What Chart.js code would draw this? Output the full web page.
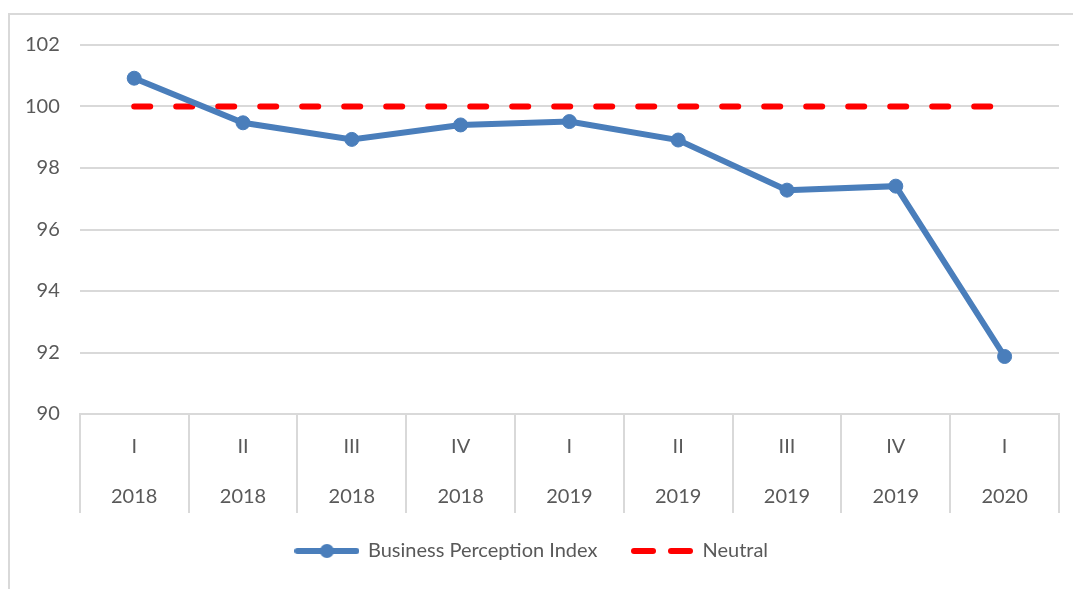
<!DOCTYPE html>
<html>
<head>
<meta charset="utf-8">
<script src="https://cdn.jsdelivr.net/npm/chart.js@4"></script>
<style>
  html, body { margin: 0; padding: 0; background: #fff; overflow: hidden; }
  #frame { position: absolute; left: 8px; top: 13px; width: 2000px; height: 2000px; border: 2px solid #D9D9D9; }
  #wrap { position: absolute; left: 0; top: 0; width: 1073px; height: 589px; }
</style>
</head>
<body>
<div id="frame"></div>
<div id="wrap"><canvas id="c" width="1073" height="589"></canvas></div>
<script>
const quarters = ['I', 'II', 'III', 'IV', 'I', 'II', 'III', 'IV', 'I'];
const years = ['2018', '2018', '2018', '2018', '2019', '2019', '2019', '2019', '2020'];
const bpiValues = [100.92, 99.47, 98.93, 99.40, 99.51, 98.91, 97.28, 97.41, 91.87];
const neutralValues = [100, 100, 100, 100, 100, 100, 100, 100, 100];
const seriesNames = ['Business Perception Index', 'Neutral'];
const yTicks = { min: 90, max: 102, step: 2 };

const BLUE = '#4A7EBB';
const RED = '#FF0000';
const GRID = '#D9D9D9';
const TEXT = '#595959';
const FONT = 'Lato';

const labels = quarters.map((q, i) => [q, years[i]]);

function legendLine() {
  const cv = document.createElement('canvas');
  cv.width = 65; cv.height = 16;
  const g = cv.getContext('2d');
  g.strokeStyle = BLUE; g.lineWidth = 6; g.lineCap = 'round';
  g.beginPath(); g.moveTo(3, 8); g.lineTo(62, 8); g.stroke();
  g.fillStyle = BLUE;
  g.beginPath(); g.arc(32.5, 8, 7, 0, Math.PI * 2); g.fill();
  return cv;
}
function legendDash() {
  const cv = document.createElement('canvas');
  cv.width = 65; cv.height = 16;
  const g = cv.getContext('2d');
  g.strokeStyle = RED; g.lineWidth = 6; g.lineCap = 'round';
  g.beginPath(); g.moveTo(5, 8); g.lineTo(24, 8); g.stroke();
  g.beginPath(); g.moveTo(42, 8); g.lineTo(61, 8); g.stroke();
  return cv;
}
const legendIcons = [legendLine(), legendDash()];

new Chart(document.getElementById('c'), {
  type: 'line',
  data: {
    labels: labels,
    datasets: [
      {
        label: seriesNames[0],
        data: bpiValues,
        borderColor: BLUE,
        backgroundColor: BLUE,
        borderWidth: 6,
        pointRadius: 7,
        pointBorderWidth: 1,
        pointBackgroundColor: BLUE,
        pointBorderColor: BLUE,
        tension: 0,
        order: 1
      },
      {
        label: seriesNames[1],
        data: neutralValues,
        borderColor: RED,
        backgroundColor: RED,
        borderWidth: 6,
        borderDash: [16, 26],
        borderCapStyle: 'round',
        pointRadius: 0,
        tension: 0,
        order: 2
      }
    ]
  },
  options: {
    responsive: false,
    animation: false,
    devicePixelRatio: 1,
    layout: { padding: { left: 5, right: 14, top: 45, bottom: 18 } },
    plugins: {
      tooltip: { enabled: false },
      legend: {
        position: 'bottom',
        labels: {
          usePointStyle: true,
          pointStyleWidth: 62,
          boxHeight: 16,
          padding: 33,
          color: TEXT,
          font: { family: FONT, size: 20 },
          generateLabels: (chart) => {
            const items = Chart.defaults.plugins.legend.labels.generateLabels(chart);
            items.forEach((it, i) => { it.pointStyle = legendIcons[i]; });
            return items;
          }
        }
      }
    },
    scales: {
      x: {
        offset: true,
        afterFit: (scale) => { scale.height = 94; },
        grid: {
          offset: true,
          drawOnChartArea: false,
          drawTicks: true,
          tickLength: 99,
          color: GRID,
          lineWidth: 2
        },
        border: { display: true, color: GRID, width: 2 },
        ticks: {
          color: TEXT,
          padding: -91,
          maxRotation: 0,
          autoSkip: false,
          font: { family: FONT, size: 20, lineHeight: '50px' }
        }
      },
      y: {
        min: yTicks.min,
        max: yTicks.max,
        grid: { color: GRID, lineWidth: 2, drawTicks: false },
        border: { display: false },
        ticks: {
          stepSize: yTicks.step,
          padding: 20,
          color: TEXT,
          font: { family: FONT, size: 20 }
        }
      }
    }
  }
});
</script>
</body>
</html>
